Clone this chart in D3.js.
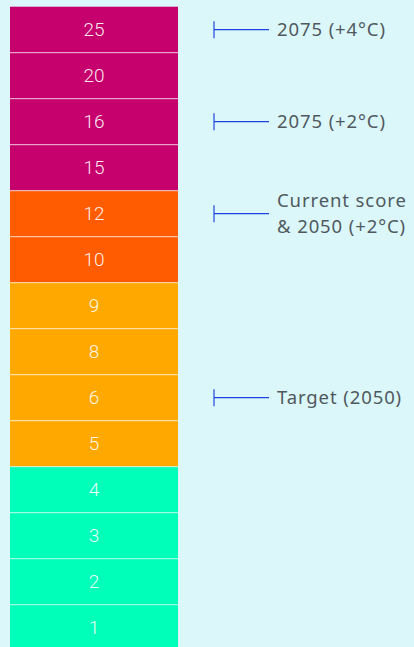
<!DOCTYPE html>
<html>
<head>
<meta charset="utf-8">
<script src="https://cdn.jsdelivr.net/npm/d3@7"></script>
<style>
  html, body { margin: 0; padding: 0; background: #dbf7fa; }
  svg { display: block; }
  .cell-label { font-family: "Roboto", "Noto Sans", sans-serif; font-weight: 300; font-size: 19px; fill: #ffffff; fill-opacity: 0.92; }
  .note { font-family: "Noto Sans", "Open Sans", sans-serif; font-size: 18.5px; letter-spacing: 0.9px; fill: #50595f; }
</style>
</head>
<body>
<div id="chart"></div>
<script>
var svgWidth = 414;
var svgHeight = 647;

// scores from top to bottom
var scores = [25, 20, 16, 15, 12, 10, 9, 8, 6, 5, 4, 3, 2, 1];
// colour band per score
var bands = ["high", "high", "high", "high", "elevated", "elevated", "medium", "medium", "medium", "medium", "low", "low", "low", "low"];
var bandNames = ["high", "elevated", "medium", "low"];
var bandColors = ["#c6006c", "#ff5b00", "#ffa900", "#00ffb9"];

// annotations: which score each label points to
var noteScores = [25, 16, 12, 6];
var noteLines = [["2075 (+4°C)"], ["2075 (+2°C)"], ["Current score", "& 2050 (+2°C)"], ["Target (2050)"]];

var svg = d3.select("#chart")
  .append("svg")
  .attr("width", svgWidth)
  .attr("height", svgHeight);

var yScale = d3.scaleBand()
  .domain(scores)
  .range([6.7, 6.7 + scores.length * 46])
  .padding(0);

var xLeft = 10, xRight = 178;

var colorScale = d3.scaleOrdinal()
  .domain(bandNames)
  .range(bandColors);

// cells
svg.selectAll("rect.cell")
  .data(scores)
  .enter()
  .append("rect")
  .attr("class", "cell")
  .attr("x", xLeft)
  .attr("y", d => yScale(d))
  .attr("width", xRight - xLeft)
  .attr("height", yScale.bandwidth())
  .attr("fill", (d, i) => colorScale(bands[i]));

// separators between cells
svg.selectAll("line.sep")
  .data(scores.slice(1))
  .enter()
  .append("line")
  .attr("class", "sep")
  .attr("x1", xLeft)
  .attr("x2", xRight)
  .attr("y1", d => yScale(d))
  .attr("y2", d => yScale(d))
  .attr("stroke", "#ffffff")
  .attr("stroke-opacity", 0.55)
  .attr("stroke-width", 1.2);

// numbers
svg.selectAll("text.cell-label")
  .data(scores)
  .enter()
  .append("text")
  .attr("class", "cell-label")
  .attr("x", (xLeft + xRight) / 2)
  .attr("y", d => yScale(d) + yScale.bandwidth() / 2)
  .attr("dy", "0.35em")
  .attr("text-anchor", "middle")
  .text(d => d);

// annotations
var notes = svg.selectAll("g.note")
  .data(noteScores)
  .enter()
  .append("g")
  .attr("class", "note-g")
  .attr("transform", d => `translate(0, ${yScale(d) + yScale.bandwidth() / 2})`);

notes.append("line")
  .attr("x1", 214).attr("x2", 214)
  .attr("y1", -8.5).attr("y2", 8.5)
  .attr("stroke", "#1f45e0")
  .attr("stroke-width", 1.2);

notes.append("line")
  .attr("x1", 214).attr("x2", 269)
  .attr("y1", 0).attr("y2", 0)
  .attr("stroke", "#1f45e0")
  .attr("stroke-width", 1.2);

notes.each(function(d, i) {
  var lines = noteLines[i];
  var g = d3.select(this);
  var offset = -(lines.length - 1) * 13.3;
  lines.forEach(function(t, j) {
    g.append("text")
      .attr("class", "note")
      .attr("x", 277)
      .attr("y", offset + j * 26.6)
      .attr("dy", "0.35em")
      .text(t);
  });
});
</script>
</body>
</html>
